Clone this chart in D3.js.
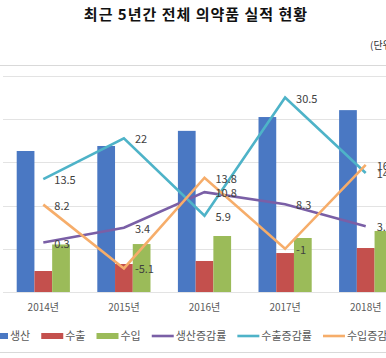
<!DOCTYPE html>
<html><head><meta charset="utf-8">
<script src="https://cdn.jsdelivr.net/npm/d3@7"></script>
<style>
body{margin:0;background:#fff;overflow:hidden}
text{font-family:"Noto Sans CJK KR","Noto Sans",sans-serif}
</style></head>
<body><svg id="c" width="386" height="358"></svg>
<script>
const years = ["2014년","2015년","2016년","2017년","2018년"];
const production = [16320, 16900, 18650, 20250, 21050];
const exportsV = [2430, 3240, 3590, 4510, 5090];
const importsV = [5500, 5550, 6480, 6250, 7060];
const prodGrowth = [0.3, 3.4, 10.8, 8.3, 3.7];
const expGrowth = [13.5, 22, 5.9, 30.5, 14.8];
const impGrowth = [8.2, -5.1, 13.8, -1, 16.5];
const prodGrowthLbl = ["0.3","3.4","10.8","8.3","3.7"];
const expGrowthLbl = ["13.5","22","5.9","30.5","14.8"];
const impGrowthLbl = ["8.2","-5.1","13.8","-1","16.5"];
const barNames = ["생산","수출","수입"];
const lineNames = ["생산증감률","수출증감률","수입증감률"];
const leftTicks = [0,5000,10000,15000,20000,25000];

const barColors = ["#4a78c3","#c4504d","#9bbb59"];
const lineColors = ["#7a5fa6","#4eb3c8","#f6ad6a"];

const svg = d3.select("#c");
svg.append("text").attr("x",196).attr("y",20).attr("text-anchor","middle")
  .attr("font-size",15).attr("font-weight","bold").attr("letter-spacing",1).attr("fill","#111")
  .text("최근 5년간 전체 의약품 실적 현황");
svg.append("text").attr("x",370).attr("y",49).attr("font-size",10).attr("fill","#333").text("(단위: 억원, %)");

svg.append("line").attr("x1",0).attr("x2",386).attr("y1",65.5).attr("y2",65.5).attr("stroke","#d9d9d9");
svg.append("line").attr("x1",0).attr("x2",386).attr("y1",352.5).attr("y2",352.5).attr("stroke","#d9d9d9");

const x0 = d3.scaleBand().domain(years).range([3,406]).paddingInner(0.34).paddingOuter(0.17);
const x1 = d3.scaleBand().domain(barNames).range([0,x0.bandwidth()]);
const y = d3.scaleLinear().domain([0,25000]).range([292,76]);
const y2 = d3.scaleLinear().domain([-10,35]).range([292,76]);
const cx = d => x0(d) + x0.bandwidth()/2;

svg.append("g").selectAll("line").data(leftTicks).join("line")
  .attr("x1",3).attr("x2",386).attr("y1",d=>Math.round(y(d))+0.5).attr("y2",d=>Math.round(y(d))+0.5)
  .attr("stroke","#e3e3e3");

const barSeries = [production, exportsV, importsV];
barSeries.forEach((s,i)=>{
  svg.append("g").selectAll("rect").data(s).join("rect")
    .attr("x",(d,j)=>x0(years[j])+x1(barNames[i]))
    .attr("width",x1.bandwidth())
    .attr("y",d=>y(d)).attr("height",d=>y(0)-y(d))
    .attr("fill",barColors[i]);
});

const lineSeries = [prodGrowth, expGrowth, impGrowth];
const lineLbls = [prodGrowthLbl, expGrowthLbl, impGrowthLbl];
const lineGen = d3.line().x((d,j)=>cx(years[j])).y(d=>y2(d));
lineSeries.forEach((s,i)=>{
  svg.append("path").datum(s).attr("d",lineGen).attr("fill","none")
    .attr("stroke",lineColors[i]).attr("stroke-width",2.6).attr("stroke-linejoin","miter");
});
lineSeries.forEach((s,i)=>{
  svg.append("g").selectAll("text").data(s).join("text")
    .attr("x",(d,j)=>cx(years[j])+11).attr("y",d=>y2(d)+5)
    .attr("font-size",11).attr("fill","#404040")
    .text((d,j)=>lineLbls[i][j]);
});

svg.append("g").selectAll("text").data(years).join("text")
  .attr("x",d=>cx(d)).attr("y",311).attr("text-anchor","middle")
  .attr("font-size",10).attr("fill","#595959").text(d=>d);

// legend
const items = barNames.map((n,i)=>({n,c:barColors[i],bar:true}))
  .concat(lineNames.map((n,i)=>({n,c:lineColors[i],bar:false})));
const lg = svg.append("g");
let lx = -14;
items.forEach(it=>{
  if(it.bar){
    lg.append("rect").attr("x",lx).attr("y",333).attr("width",22).attr("height",6).attr("fill",it.c);
  } else {
    lg.append("line").attr("x1",lx).attr("x2",lx+22).attr("y1",336).attr("y2",336)
      .attr("stroke",it.c).attr("stroke-width",2.6);
  }
  const t = lg.append("text").attr("x",lx+24).attr("y",340).attr("font-size",11).attr("fill","#595959").text(it.n);
  lx += 24 + t.node().getComputedTextLength() + 11;
});
</script></body></html>
